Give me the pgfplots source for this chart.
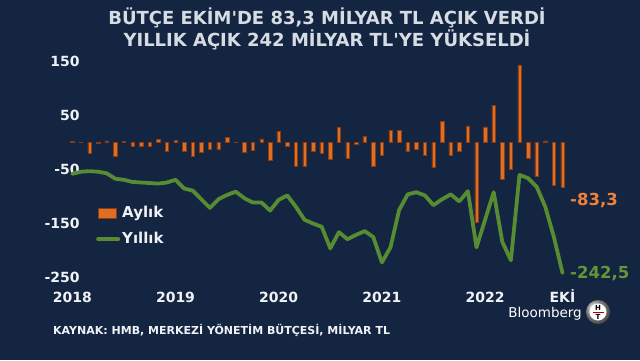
\documentclass[border=0pt]{standalone}
\usepackage{fontspec}
\setmainfont{DejaVu Sans}[Ligatures=TeXOff]
\usepackage{pgfplots}
\pgfplotsset{compat=1.18}
\definecolor{bg}{RGB}{19,37,64}
\definecolor{barfill}{RGB}{222,110,35}
\definecolor{bardark}{RGB}{140,60,15}
\definecolor{orangelab}{RGB}{240,128,58}
\definecolor{linegreen}{RGB}{88,140,50}
\definecolor{greenlab}{RGB}{100,150,55}
\definecolor{titlec}{RGB}{215,220,228}
\definecolor{tickc}{RGB}{240,242,245}
\begin{document}
\begin{tikzpicture}[x=1pt,y=1pt]
\fill[bg] (0,0) rectangle (640,360);
\useasboundingbox (0,0) rectangle (640,360);
\node[font=\fontsize{18}{22.5}\selectfont\bfseries, text=titlec, align=center] at (327,331)
  {BÜTÇE EKİM'DE 83,3 MİLYAR TL AÇIK VERDİ\\YILLIK AÇIK 242 MİLYAR TL'YE YÜKSELDİ};
\begin{axis}[
  at={(63.7pt,77.6pt)}, anchor=south west, scale only axis,
  width=507.4pt, height=226.8pt,
  xmin=-1, xmax=58, ymin=-260, ymax=160,
  axis lines=left, axis line style={draw=none}, tick style={draw=none},
  clip=false,
  xtick={0,12,24,36,48,57}, xticklabels={2018,2019,2020,2021,2022,EKİ},
  ytick={-250,-150,-50,50,150}, yticklabels={-250,-150,-50,50,150},
  ticklabel style={font=\fontsize{14}{14}\selectfont\bfseries, text=tickc},
  yticklabel style={anchor=east, inner sep=0pt, xshift=18.3pt},
  xticklabel style={anchor=north, inner sep=0pt, text height=10pt, text depth=0pt, yshift=-8pt},
  legend style={at={(0.0577,0.355)}, anchor=north west, draw=none, fill=none,
    text=tickc, font=\fontsize{15}{15}\selectfont\bfseries, row sep=8pt,
    nodes={inner sep=2pt, text height=11pt, text depth=3pt}},
  legend cell align=left,
]
\addplot[ybar, bar width=3.4pt, fill=barfill, draw=bardark, line width=0.5pt,
  legend image code/.code={\draw[fill=barfill,draw=bardark] (0pt,-5pt) rectangle (18pt,5pt);}]
coordinates {(0,1) (1,-1) (2,-21) (3,-2) (4,2) (5,-27) (6,1) (7,-7) (8,-7) (9,-7) (10,5) (11,-17) (12,3) (13,-18) (14,-26) (15,-19) (16,-14) (17,-14) (18,8) (19,-1) (20,-19) (21,-15) (22,6) (23,-33) (24,20) (25,-8) (26,-45) (27,-45) (28,-18) (29,-21) (30,-32) (31,27) (32,-30) (33,-4) (34,11) (35,-44) (36,-24) (37,22) (38,22) (39,-18) (40,-14) (41,-25) (42,-47) (43,38) (44,-24) (45,-17) (46,30) (47,-148) (48,28) (49,68) (50,-69) (51,-51) (52,143) (53,-31) (54,-64) (55,2) (56,-80) (57,-83.3)};
\addlegendentry{Aylık}
\addplot[color=linegreen, line width=3.8pt, line join=round, line cap=round,
  legend image code/.code={\draw[linegreen, line width=4pt, line cap=round] (0pt,0pt) -- (20pt,0pt);}]
coordinates {(0,-59) (1,-55) (2,-54) (3,-55) (4,-58) (5,-68) (6,-70) (7,-74) (8,-75) (9,-76) (10,-77) (11,-75) (12,-70) (13,-86) (14,-90) (15,-106) (16,-122) (17,-106) (18,-98) (19,-92) (20,-104) (21,-112) (22,-112) (23,-127) (24,-107) (25,-99) (26,-120) (27,-144) (28,-151) (29,-157) (30,-197) (31,-167) (32,-180) (33,-172) (34,-165) (35,-176) (36,-223) (37,-195) (38,-126) (39,-97) (40,-93) (41,-99) (42,-117) (43,-106) (44,-97) (45,-110) (46,-91) (47,-195) (48,-144) (49,-93) (50,-185) (51,-219) (52,-61) (53,-67) (54,-83) (55,-120) (56,-176) (57,-242.5)};
\addlegendentry{Yıllık}
\end{axis}
\node[anchor=west, text=orangelab, font=\fontsize{16.5}{16.5}\selectfont\bfseries, inner sep=0pt] at (570,159) {-83,3};
\node[anchor=west, text=greenlab, font=\fontsize{16.5}{16.5}\selectfont\bfseries, inner sep=0pt] at (570,86) {-242,5};
\node[anchor=west, text=tickc, font=\fontsize{11}{11}\selectfont\bfseries, inner sep=0pt] at (53,30) {KAYNAK: HMB, MERKEZİ YÖNETİM BÜTÇESİ, MİLYAR TL};
\node[anchor=east, text=white, font=\fontsize{13.5}{13.5}\selectfont, inner sep=0pt] at (582,46) {Bloomberg};
\shade[ball color=gray!60] (598,48) circle (12);
\fill[white] (598,48) circle (8.5);
\node[font=\fontsize{7}{7}\selectfont\bfseries, text=black, inner sep=0pt] at (598,52) {H};
\fill[red!70!black] (592.5,48) rectangle (603.5,47);
\node[font=\fontsize{7}{7}\selectfont\bfseries, text=black, inner sep=0pt] at (598,43) {T};
\end{tikzpicture}
\end{document}
